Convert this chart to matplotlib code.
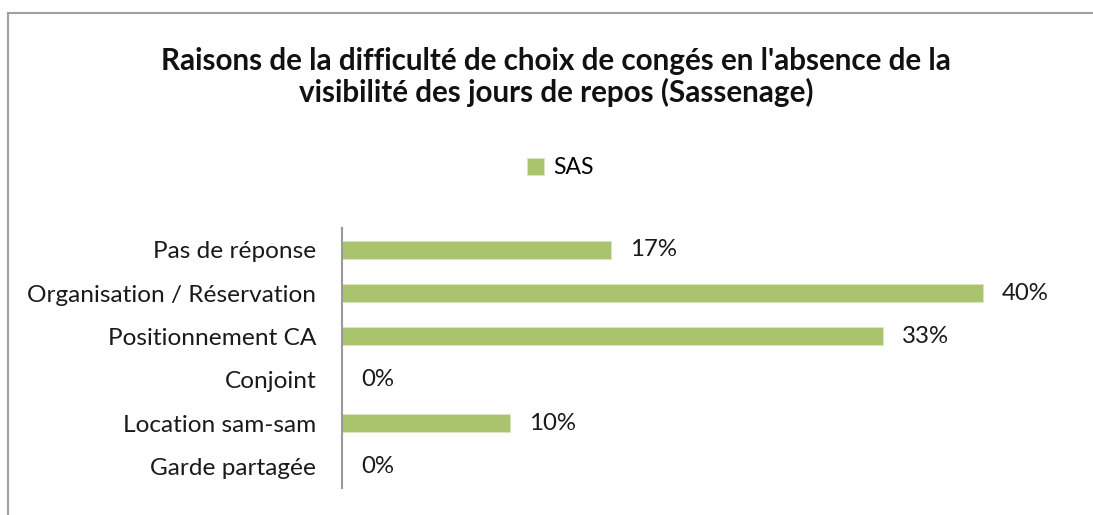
import matplotlib
matplotlib.use("Agg")
import matplotlib.pyplot as plt
from matplotlib.lines import Line2D

categories = ["Pas de réponse", "Organisation / Réservation", "Positionnement CA",
              "Conjoint", "Location sam-sam", "Garde partagée"]
values = [0.168, 0.40, 0.3375, 0.0, 0.105, 0.0]
value_labels = ["17%", "40%", "33%", "0%", "10%", "0%"]
series_name = "SAS"
title = "Raisons de la difficulté de choix de congés en l'absence de la\nvisibilité des jours de repos (Sassenage)"

plt.rcParams['font.family'] = ['Lato', 'DejaVu Sans']
W, H = 1093, 515
fig = plt.figure(figsize=(W / 100, H / 100), dpi=100)
fig.patch.set_facecolor("white")

ax = fig.add_axes([342 / W, 1 - 488 / H, (1063 - 342) / W, (488 - 228) / H])
color = "#AAC46E"
ypos = list(range(len(categories)))
ax.barh(ypos, values, height=0.42, color=color, edgecolor="#D8E6C0", linewidth=0.6,
        label=series_name)
ax.set_ylim(len(categories) - 0.5, -0.5)
ax.set_xlim(0, 0.45)
ax.set_yticks(ypos)
ax.set_yticklabels(categories, fontsize=17.6, color="#1a1a1a")
ax.tick_params(axis="y", length=0, pad=18.5)
ax.set_xticks([])
for s in ["top", "right", "bottom"]:
    ax.spines[s].set_visible(False)
ax.spines["left"].set_color("#9a9a9a")
ax.spines["left"].set_linewidth(1.5)

for y, v, lab in zip(ypos, values, value_labels):
    ax.annotate(lab, (v, y), xytext=(19, 0), textcoords="offset pixels",
                va="center", ha="left", fontsize=17.3, color="#1a1a1a")

fig.text(556 / W, 1 - 77 / H, title, ha="center", va="center", fontsize=21.3,
         fontweight="bold", linespacing=1.1, color="#111111")

handles, labels = ax.get_legend_handles_labels()
fig.legend(handles, labels, loc="center", bbox_to_anchor=(560 / W, 1 - 168 / H),
           frameon=False, fontsize=16.5, handlelength=0.75, handleheight=0.75,
           handletextpad=0.4)

# chart frame (left and top edges visible)
fig.add_artist(Line2D([7.5 / W, 7.5 / W], [0, 1 - 12.5 / H], transform=fig.transFigure,
                      color="#a0a0a0", linewidth=1.5))
fig.add_artist(Line2D([7.5 / W, 1], [1 - 12.5 / H, 1 - 12.5 / H], transform=fig.transFigure,
                      color="#a0a0a0", linewidth=1.5))

fig.savefig("out.png", dpi=100, facecolor="white")
